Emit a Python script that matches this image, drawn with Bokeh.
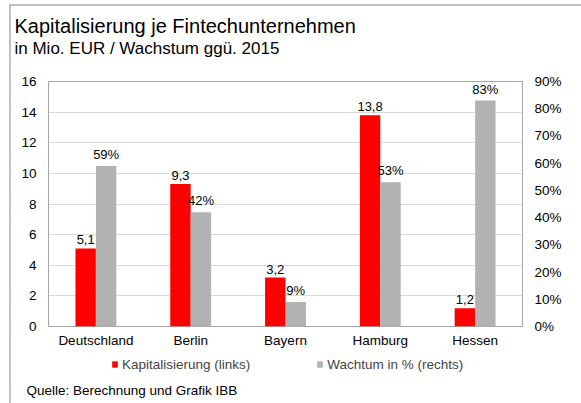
from bokeh.plotting import figure
from bokeh.layouts import column
from bokeh.models import (Range1d, LinearAxis, FixedTicker, Legend,
                          LegendItem, Title)
from bokeh.core.properties import value
from bokeh.embed import file_html
from bokeh.resources import INLINE

# ---- data ----
regions = ["Deutschland", "Berlin", "Bayern", "Hamburg", "Hessen"]
kapital = [5.1, 9.3, 3.2, 13.8, 1.2]          # Mio. EUR (left axis)
wachstum = [59, 42, 9, 53, 83]                 # % (right axis)
left_ticks = [0, 2, 4, 6, 8, 10, 12, 14, 16]
right_ticks = [0, 10, 20, 30, 40, 50, 60, 70, 80, 90]

title_text = "Kapitalisierung je Fintechunternehmen"
subtitle_text = "in Mio. EUR / Wachstum ggü. 2015"
source_text = "Quelle: Berechnung  und Grafik  IBB"
legend_labels = ["Kapitalisierung (links)", "Wachtum in % (rechts)"]

FONT = "Liberation Sans"
RED = "#ff0000"
GRAY = "#b2b2b2"
FRAME_GRAY = "#c0c0c0"

centers = [i + 0.5 for i in range(len(regions))]
off = 0.108
bw = 0.215
x_red = [c - off for c in centers]
x_gray = [c + off for c in centers]

W = 581
H_TOP = 352
H_BOT = 403 - H_TOP

# ================= main chart =================
p = figure(width=W, height=H_TOP, output_backend="svg", toolbar_location=None,
           x_range=Range1d(0, len(regions)), y_range=Range1d(0, 16),
           min_border_left=48, min_border_right=59, min_border_top=81,
           min_border_bottom=H_TOP - 326)
p.extra_y_ranges = {"right": Range1d(0, 90)}

p.outline_line_color = "#a6a6a6"
p.outline_line_width = 1
p.background_fill_color = "white"
p.border_fill_alpha = 0
p.styles = {
    "background-color": "white",
    "background-image": f"linear-gradient({FRAME_GRAY},{FRAME_GRAY}), linear-gradient({FRAME_GRAY},{FRAME_GRAY})",
    "background-size": f"2px {H_TOP}px, {W}px 2px",
    "background-position": "9px 4px, 9px 4px",
    "background-repeat": "no-repeat",
}

# axes
p.xaxis.ticker = FixedTicker(ticks=centers)
p.xaxis.major_label_overrides = {c: r for c, r in zip(centers, regions)}
p.yaxis.ticker = FixedTicker(ticks=left_ticks)

raxis = LinearAxis(y_range_name="right", ticker=FixedTicker(ticks=right_ticks))
raxis.major_label_overrides = {t: f"{t}%" for t in right_ticks}
p.add_layout(raxis, "right")

for ax in [p.xaxis[0], p.yaxis[0], raxis]:
    ax.axis_line_color = None
    ax.major_tick_line_color = None
    ax.minor_tick_line_color = None
    ax.major_tick_out = 0
    ax.major_tick_in = 0
    ax.major_label_text_font = FONT
    ax.major_label_text_font_size = "13.5px"
    ax.major_label_text_color = "#000000"
p.xaxis.major_label_standoff = 6
p.yaxis.major_label_standoff = 12
raxis.major_label_standoff = 12

p.xgrid.grid_line_color = None
p.ygrid.ticker = FixedTicker(ticks=left_ticks)
p.ygrid.grid_line_color = "#d9d9d9"
p.ygrid.grid_line_width = 1

# bars
p.vbar(x=x_red, top=kapital, width=bw, bottom=0, fill_color=RED, line_color=None)
p.vbar(x=x_gray, top=wachstum, width=bw, bottom=0, fill_color=GRAY,
       line_color=None, y_range_name="right")

# data labels
kap_labels = [f"{v:.1f}".replace(".", ",") for v in kapital]
wach_labels = [f"{v}%" for v in wachstum]
p.text(x=x_red, y=kapital, text=kap_labels, text_align="center",
       text_baseline="bottom", y_offset=-4, text_font=value(FONT),
       text_font_size="13px", text_color="#000000")
p.text(x=x_gray, y=wachstum, text=wach_labels, text_align="center",
       text_baseline="bottom", y_offset=-4, text_font=value(FONT),
       text_font_size="13px", text_color="#000000", y_range_name="right")

# titles: first added item is nearest the frame, p.title is outermost
p.add_layout(Title(text=" ", text_font_size="1px", standoff=21), "above")  # gap
p.add_layout(Title(text=subtitle_text, align="left", offset=-34,
                   text_font=FONT, text_font_size="17px",
                   text_font_style="normal", text_color="#000000",
                   standoff=0), "above")
p.title.text = title_text
p.title.align = "left"
p.title.offset = -34
p.title.text_font = FONT
p.title.text_font_size = "20px"
p.title.text_font_style = "normal"
p.title.text_color = "#000000"
p.title.standoff = 0

# ================= legend + source strip =================
q = figure(width=W, height=H_BOT, output_backend="svg", toolbar_location=None,
           x_range=Range1d(0, 1), y_range=Range1d(0, 1),
           x_axis_location=None, y_axis_location=None,
           min_border_left=1, min_border_right=1,
           min_border_top=1, min_border_bottom=1)
q.grid.visible = False
q.outline_line_color = None
q.background_fill_alpha = 0
q.border_fill_alpha = 0
q.styles = {
    "background-color": "white",
    "background-image": f"linear-gradient({FRAME_GRAY},{FRAME_GRAY})",
    "background-size": f"2px {H_BOT}px",
    "background-position": "9px 0px",
    "background-repeat": "no-repeat",
}
lr = q.vbar(x=x_red, top=kapital, width=bw, fill_color=RED, line_color=None,
            visible=False)
lg = q.vbar(x=x_gray, top=wachstum, width=bw, fill_color=GRAY, line_color=None,
            visible=False)
legend = Legend(items=[LegendItem(label=legend_labels[0], renderers=[lr]),
                       LegendItem(label=legend_labels[1], renderers=[lg])],
                orientation="horizontal", location=(63, 3),
                glyph_width=7, glyph_height=8, label_standoff=4, spacing=66,
                padding=0, margin=0, border_line_color=None,
                background_fill_alpha=0, inactive_fill_alpha=0,
                label_text_font=FONT, label_text_font_size="13.5px",
                label_height=16, click_policy="none")
q.add_layout(legend, "center")
q.add_layout(Title(text=source_text, align="left", offset=-22,
                   text_font=FONT, text_font_size="13.5px",
                   text_font_style="normal", text_color="#000000",
                   standoff=11), "below")

layout = column(p, q, spacing=0)
open("out.html", "w").write(file_html(layout, INLINE))
